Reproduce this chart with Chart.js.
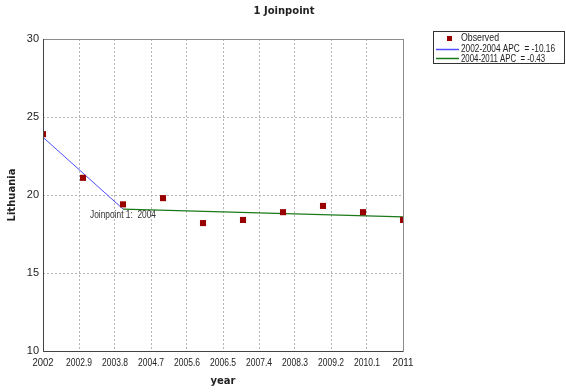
<!DOCTYPE html>
<html>
<head>
<meta charset="utf-8">
<script src="https://cdn.jsdelivr.net/npm/chart.js@4.4.1/dist/chart.umd.min.js"></script>
<style>
    html, body { margin: 0; padding: 0; background: #fff; }
    #wrap { width: 566px; height: 392px; position: relative; }
</style>
</head>
<body>
<div id="wrap"><canvas id="chart"></canvas></div>
<script>
// data
const years = [2002, 2003, 2004, 2005, 2006, 2007, 2008, 2009, 2010, 2011];
const observed = [23.9, 21.1, 19.4, 19.8, 18.2, 18.4, 18.9, 19.3, 18.9, 18.4];
const seg1Years = [2002, 2004];
const seg1Values = [23.7, 19.1];
const seg2Years = [2004, 2011];
const seg2Values = [19.1, 18.6];
const xTickValues = [2002, 2002.9, 2003.8, 2004.7, 2005.6, 2006.5, 2007.4, 2008.3, 2009.2, 2010.1, 2011];
const yTickValues = [10, 15, 20, 25, 30];
const legendLabels = ['Observed', '2002-2004 APC  = -10.16', '2004-2011 APC  = -0.43'];
const joinpointYear = 2004;
const joinpointValue = 19.1;

const toPoints = (xs, ys) => xs.map((x, i) => ({x: x, y: ys[i]}));

const colors = {
    observed: '#990000',
    seg1: '#4d4dff',
    seg2: '#1a7a1a'
};

const extrasPlugin = {
    id: 'extras',
    afterDraw(chart) {
        const ctx = chart.ctx;
        const area = chart.chartArea;
        const xs = chart.scales.x;
        const ys = chart.scales.y;
        ctx.save();

        // frame
        ctx.strokeStyle = '#8c8c8c';
        ctx.lineWidth = 1;
        ctx.strokeRect(Math.round(area.left) + 0.5, Math.round(area.top) + 0.5,
            Math.round(area.right - area.left), Math.round(area.bottom - area.top));
        ctx.strokeStyle = '#444';
        ctx.beginPath();
        ctx.moveTo(Math.round(area.left) + 0.5, area.top);
        ctx.lineTo(Math.round(area.left) + 0.5, Math.round(area.bottom) + 0.5);
        ctx.lineTo(area.right, Math.round(area.bottom) + 0.5);
        ctx.stroke();

        // x tick labels, a bit condensed like the original
        ctx.fillStyle = '#222';
        ctx.font = '10px "Liberation Sans"';
        ctx.textAlign = 'center';
        ctx.textBaseline = 'middle';
        xs.ticks.forEach(t => {
            const label = String(Math.round(t.value * 10) / 10);
            ctx.fillText(label, xs.getPixelForValue(t.value), area.bottom + 12, label.length > 4 ? 26 : 21);
        });

        // title
        ctx.font = 'bold 10px "DejaVu Sans"';
        ctx.fillText('1 Joinpoint', 284, 11);

        // joinpoint label
        ctx.fillStyle = '#333';
        ctx.font = '10px "Liberation Sans"';
        ctx.textBaseline = 'top';
        ctx.fillText('Joinpoint 1:  ' + joinpointYear, xs.getPixelForValue(joinpointYear), ys.getPixelForValue(joinpointValue) + 1, 66);

        // legend box
        ctx.strokeStyle = '#333';
        ctx.strokeRect(433.5, 31.5, 131, 32);
        ctx.fillStyle = colors.observed;
        ctx.fillRect(447, 36, 5, 5);
        ctx.lineWidth = 1.5;
        ctx.strokeStyle = colors.seg1;
        ctx.beginPath();
        ctx.moveTo(436, 49.5);
        ctx.lineTo(459, 49.5);
        ctx.stroke();
        ctx.strokeStyle = colors.seg2;
        ctx.beginPath();
        ctx.moveTo(436, 58.5);
        ctx.lineTo(459, 58.5);
        ctx.stroke();
        ctx.fillStyle = '#222';
        ctx.textAlign = 'left';
        ctx.textBaseline = 'middle';
        ctx.font = '10px "Liberation Sans"';
        const widths = [38, 94, 84];
        legendLabels.forEach((label, i) => {
            ctx.fillText(label, 461, 38.5 + i * 10.5, widths[i]);
        });
        ctx.restore();
    }
};

new Chart(document.getElementById('chart'), {
    type: 'scatter',
    data: {
        datasets: [
            {
                label: legendLabels[0],
                data: toPoints(years, observed),
                pointStyle: 'rect',
                pointRadius: 4.3,
                pointBackgroundColor: colors.observed,
                pointBorderColor: colors.observed,
                borderWidth: 0,
                order: 0
            },
            {
                label: legendLabels[1],
                data: toPoints(seg1Years, seg1Values),
                showLine: true,
                borderColor: colors.seg1,
                borderWidth: 1,
                pointRadius: 0,
                order: 1
            },
            {
                label: legendLabels[2],
                data: toPoints(seg2Years, seg2Values),
                showLine: true,
                borderColor: colors.seg2,
                borderWidth: 1.2,
                pointRadius: 0,
                order: 2
            }
        ]
    },
    options: {
        responsive: true,
        maintainAspectRatio: false,
        animation: false,
        layout: {padding: {top: 39, right: 163, left: 0, bottom: 0}},
        plugins: {
            legend: {display: false},
            title: {display: false},
            tooltip: {enabled: false}
        },
        scales: {
            x: {
                type: 'linear',
                min: 2002,
                max: 2011,
                afterBuildTicks: scale => {
                    scale.ticks = xTickValues.map(v => ({value: v}));
                },
                afterFit: scale => {
                    scale.height = 41;
                },
                ticks: {display: false},
                grid: {
                    color: '#b4b4b4',
                    drawTicks: false
                },
                border: {display: false, dash: [2, 2]},
                title: {
                    display: true,
                    text: 'year',
                    color: '#222',
                    font: {family: 'DejaVu Sans', size: 10, weight: 'bold'},
                    padding: {top: 4, bottom: 5}
                }
            },
            y: {
                min: 10,
                max: 30,
                afterBuildTicks: scale => {
                    scale.ticks = yTickValues.map(v => ({value: v}));
                },
                afterFit: scale => {
                    scale.width = 43;
                },
                ticks: {
                    padding: 4,
                    color: '#222',
                    font: {family: 'Liberation Sans', size: 11}
                },
                grid: {
                    color: '#b4b4b4',
                    drawTicks: false
                },
                border: {display: false, dash: [2, 2]},
                title: {
                    display: true,
                    text: 'Lithuania',
                    color: '#222',
                    font: {family: 'DejaVu Sans', size: 10, weight: 'bold'},
                    padding: {top: 6, bottom: 0}
                }
            }
        }
    },
    plugins: [extrasPlugin]
});
</script>
</body>
</html>
